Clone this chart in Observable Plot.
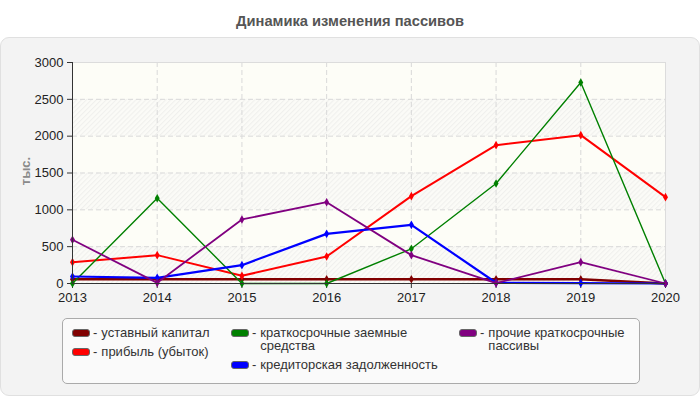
<!DOCTYPE html>
<html>
<head>
<meta charset="utf-8">
<script src="https://cdn.jsdelivr.net/npm/d3@7"></script>
<script src="https://cdn.jsdelivr.net/npm/@observablehq/plot@0.6"></script>
<style>
  html, body { margin: 0; padding: 0; background: #fff; }
  body { font-family: "Liberation Sans", Arial, sans-serif; }
  #wrap { position: relative; width: 700px; height: 400px; overflow: hidden; }
  #title { position: absolute; top: 13px; left: 0; width: 700px; text-align: center;
           font-size: 14.7px; font-weight: bold; color: #555; }
  #panel { position: absolute; top: 37px; left: 0; width: 698px; height: 357px;
           background: #f3f3f3; border: 1px solid #e0e0e0; border-radius: 9px; }
  #chart { position: absolute; top: 37px; left: 0; }
  #ylabel { position: absolute; left: 11px; top: 171px; transform: translate(0,-50%) rotate(-90deg);
            transform-origin: center; font-size: 13px; font-weight: bold; color: #8a8a8a; }
  #legend { position: absolute; left: 62px; top: 318px; width: 576px; height: 64px;
            background: #fafafa; border: 1px solid #aaa; border-radius: 5px; }
  .col { position: absolute; top: 7px; }
  .item { display: flex; align-items: flex-start; font-size: 13px; color: #333; line-height: 13px; margin-bottom: 5.5px; white-space: nowrap; }
  .sw { width: 16px; height: 6px; border: 1px solid #666; border-radius: 3px; margin-top: 3px; flex: none; }
  .dash { margin-left: 3px; margin-right: 4px; flex: none; }
  .lab { display: inline-block; }
</style>
</head>
<body>
<div id="wrap">
  <div id="title">Динамика изменения пассивов</div>
  <div id="panel"></div>
  <div id="chart"></div>
  <div id="ylabel">тыс.</div>
  <div id="legend"></div>
</div>
<script>
// ---- data ----
const years = [2013, 2014, 2015, 2016, 2017, 2018, 2019, 2020];
const yTicks = [0, 500, 1000, 1500, 2000, 2500, 3000];
const seriesNames = [
  "уставный капитал",
  "прибыль (убыток)",
  "краткосрочные заемные средства",
  "кредиторская задолженность",
  "прочие краткосрочные пассивы"
];
const seriesColors = ["#800000", "#ff0000", "#008000", "#0000ff", "#800080"];
const ustavnyKapital   = [57, 57, 57, 57, 57, 57, 57, 0];
const pribyl           = [290, 385, 104, 367, 1186, 1878, 2014, 1172];
const kratkZaemnye     = [0, 1158, 0, 0, 471, 1358, 2729, 0];
const kreditorskaya    = [95, 77, 249, 674, 796, 10, 5, 0];
const prochiePassivy   = [593, 9, 869, 1104, 385, 5, 290, 0];

const seriesValues = [ustavnyKapital, pribyl, kratkZaemnye, kreditorskaya, prochiePassivy];
const lineWidths = [2.5, 2, 1.4, 2.2, 1.8];

// ---- build table ----
const table = [];
seriesNames.forEach((name, i) => {
  years.forEach((yr, j) => table.push({series: name, year: yr, value: seriesValues[i][j], idx: i}));
});

// hatched bands between alternate ticks
const bands = [];
for (let k = 0; k + 1 < yTicks.length; k += 2) bands.push({y1: yTicks[k], y2: yTicks[k + 1]});

const marks = [
  Plot.frame({fill: "#fdfdf7", stroke: null}),
  Plot.rect(bands, {y1: "y1", y2: "y2", fill: "url(#hatch)"}),
  Plot.gridY(yTicks.slice(1, -1), {stroke: "#d9d9d9", strokeOpacity: 1, strokeDasharray: "5,3"}),
  Plot.gridX(years.slice(1, -1), {stroke: "#d9d9d9", strokeOpacity: 1, strokeDasharray: "5,3"}),
  Plot.ruleY([yTicks[yTicks.length - 1]], {stroke: "#dcdcdc"}),
  Plot.ruleX([years[years.length - 1]], {stroke: "#dcdcdc"}),
  Plot.axisY({ticks: yTicks, tickSize: 5, tickPadding: 4, tickFormat: d => String(d), label: null, fill: "#222", stroke: "#333"}),
  Plot.axisX({ticks: years, tickSize: 5, tickPadding: 4, tickFormat: d => String(d), label: null, fill: "#222", stroke: "#333"})
];
seriesNames.forEach((name, i) => {
  const d = table.filter(r => r.idx === i);
  marks.push(Plot.line(d, {x: "year", y: "value", stroke: seriesColors[i], strokeWidth: lineWidths[i]}));
  marks.push(Plot.dot(d, {x: "year", y: "value", fill: seriesColors[i], symbol: "diamond", r: 2.6, stroke: null}));
});
marks.push(Plot.ruleY([0], {stroke: "#333"}));
marks.push(Plot.ruleX([years[0]], {stroke: "#333"}));

const plot = Plot.plot({
  width: 700,
  height: 270,
  marginTop: 25,
  marginBottom: 24,
  marginLeft: 72,
  marginRight: 35,
  x: {domain: [years[0], years[years.length - 1]]},
  y: {domain: [0, 3000]},
  style: {fontSize: "13px", fontFamily: "'Liberation Sans', Arial, sans-serif", background: "transparent", color: "#222"},
  marks
});

// hatch pattern definition
const svg = d3.select(plot);
const defs = svg.insert("defs", ":first-child");
const pat = defs.append("pattern").attr("id", "hatch").attr("patternUnits", "userSpaceOnUse")
  .attr("width", 3.5).attr("height", 3.5).attr("patternTransform", "rotate(45)");
pat.append("rect").attr("width", 3.5).attr("height", 3.5).attr("fill", "#fbfbf7");
pat.append("line").attr("x1", 0.5).attr("y1", 0).attr("x2", 0.5).attr("y2", 3.5)
  .attr("stroke", "#f0f0ed").attr("stroke-width", 1.1);

document.getElementById("chart").appendChild(plot);

// ---- legend ----
const legend = document.getElementById("legend");
const cols = [
  {left: 9, items: [0, 1]},
  {left: 168, items: [2, 3]},
  {left: 396, items: [4]}
];
const wrapWidths = {2: 150, 4: 140};
cols.forEach(c => {
  const col = document.createElement("div");
  col.className = "col";
  col.style.left = c.left + "px";
  c.items.forEach(i => {
    const it = document.createElement("div");
    it.className = "item";
    const sw = document.createElement("div");
    sw.className = "sw";
    sw.style.background = seriesColors[i];
    const dash = document.createElement("span");
    dash.className = "dash";
    dash.textContent = "-";
    const lab = document.createElement("span");
    lab.className = "lab";
    if (wrapWidths[i]) { lab.style.width = wrapWidths[i] + "px"; lab.style.whiteSpace = "normal"; }
    lab.textContent = seriesNames[i];
    it.appendChild(sw); it.appendChild(dash); it.appendChild(lab);
    col.appendChild(it);
  });
  legend.appendChild(col);
});
</script>
</body>
</html>
